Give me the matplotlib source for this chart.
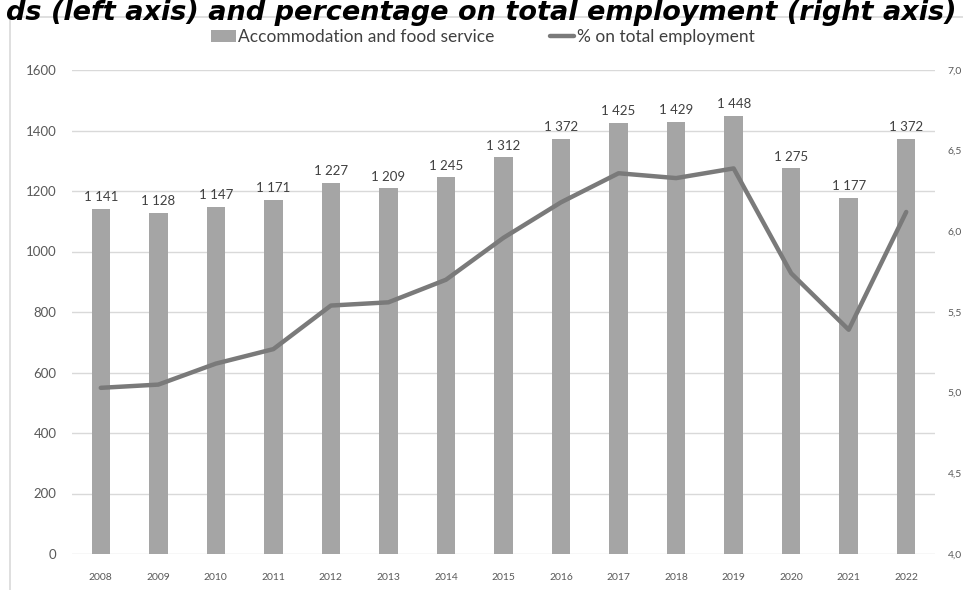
import matplotlib
matplotlib.use("Agg")
import matplotlib.pyplot as plt
from matplotlib.patches import Rectangle

plt.rcParams['font.family'] = ['Lato', 'DejaVu Sans']

years = ["2008", "2009", "2010", "2011", "2012", "2013", "2014", "2015",
         "2016", "2017", "2018", "2019", "2020", "2021", "2022"]
employed = [1141, 1128, 1147, 1171, 1227, 1209, 1245, 1312,
            1372, 1425, 1429, 1448, 1275, 1177, 1372]
share_pct = [5.03, 5.05, 5.18, 5.27, 5.54, 5.56, 5.70, 5.96,
             6.18, 6.36, 6.33, 6.39, 5.74, 5.39, 6.12]
left_ticks = [0, 200, 400, 600, 800, 1000, 1200, 1400, 1600]
right_ticks = [4.0, 4.5, 5.0, 5.5, 6.0, 6.5, 7.0]

W, H = 963, 590
fig = plt.figure(figsize=(W / 100, H / 100), dpi=100)

# chart frame
fig.patches.append(Rectangle((10 / W, -0.1), 1.2, 1 - 17 / H + 0.1,
                             transform=fig.transFigure, fill=False,
                             edgecolor="#d9d9d9", linewidth=1.2, zorder=0))

fig.text(481 / W, 1.0, "ds (left axis) and percentage on total employment (right axis)",
         ha="center", va="top", fontsize=19.5, fontweight="bold", style="italic",
         family=["DejaVu Sans"], color="#000000")

ax = fig.add_axes([72 / W, 1 - 554 / H, (935 - 72) / W, (554 - 70) / H])
x = list(range(len(years)))
bars = ax.bar(x, employed, width=0.32, color="#a5a5a5", zorder=2,
              label="Accommodation and food service")
ax.set_xlim(-0.5, len(years) - 0.5)
ax.set_ylim(0, 1600)
ax.set_yticks(left_ticks)
ax.set_yticklabels([str(t) for t in left_ticks])
ax.set_xticks(x)
ax.set_xticklabels(years)
ax.tick_params(axis="y", length=0, pad=11, labelsize=9.5, labelcolor="#595959")
ax.tick_params(axis="x", length=0, pad=14, labelsize=7.5, labelcolor="#595959")
ax.grid(axis="y", color="#d9d9d9", linewidth=1.0, zorder=0)
ax.set_axisbelow(True)
for s in ax.spines.values():
    s.set_visible(False)

for xi, v in zip(x, employed):
    lab = f"{v:,}".replace(",", " ")
    ax.annotate(lab, (xi, v), xytext=(0, 4), textcoords="offset points",
                ha="center", va="bottom", fontsize=9.5, color="#404040")

ax2 = ax.twinx()
line, = ax2.plot(x, share_pct, color="#7a7a7a", linewidth=3.2,
                 solid_capstyle="round", label="% on total employment", zorder=3)
ax2.set_ylim(4.0, 7.0)
ax2.set_yticks(right_ticks)
ax2.set_yticklabels([f"{t:.1f}".replace(".", ",") for t in right_ticks])
ax2.tick_params(axis="y", length=0, pad=9, labelsize=7.5, labelcolor="#595959")
for s in ax2.spines.values():
    s.set_visible(False)

fig.legend(handles=[bars, line], labels=["Accommodation and food service", "% on total employment"],
           loc="center", bbox_to_anchor=(483 / W, 1 - 37 / H), ncol=2, frameon=False,
           fontsize=12.5, labelcolor="#404040", handlelength=1.4, handletextpad=0.15,
           columnspacing=3.2)

fig.savefig("out.png", dpi=100)
